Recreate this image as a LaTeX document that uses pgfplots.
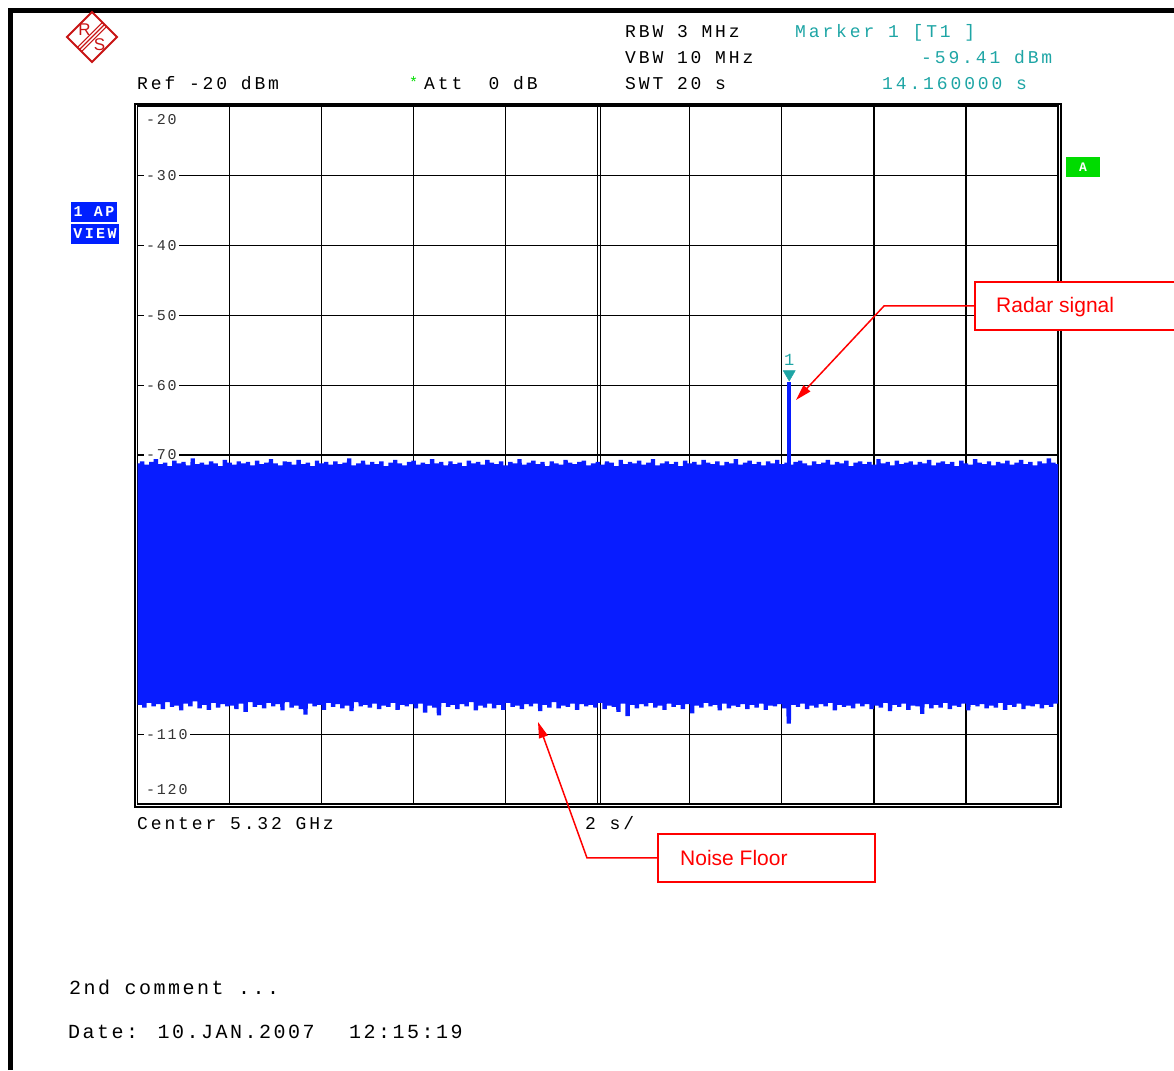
\documentclass[border=0pt]{standalone}
\usepackage{pgfplots}
\pgfplotsset{compat=1.18}
\usetikzlibrary{arrows.meta}
\usepackage{fontspec}
\setmainfont{Liberation Sans}
\newfontfamily\monoA[LetterSpace=16]{Liberation Mono}
\newfontfamily\monoB[LetterSpace=12.5]{Liberation Mono}
\newfontfamily\monoT[LetterSpace=12]{Liberation Mono}
\definecolor{trace}{RGB}{8,28,255}
\definecolor{mk}{RGB}{30,165,165}
\definecolor{rsred}{RGB}{200,20,20}
\definecolor{grn}{RGB}{0,220,0}
\definecolor{apblue}{RGB}{0,32,255}
\newcommand\hdr{\monoA\fontsize{18}{18}\selectfont}
\newcommand\tck{\monoT\fontsize{15}{15}\selectfont}
\newcommand\ftr{\monoB\fontsize{20}{20}\selectfont}
\begin{document}
\begin{tikzpicture}
\useasboundingbox (0,0) rectangle (1174pt,1070pt);
% second line of the centre division, under the trace
\draw[line width=1.2pt] (600.7pt,964pt) -- (600.7pt,266pt);
\begin{axis}[
  at={(137.5pt,266pt)}, anchor=south west,
  scale only axis, width=920.5pt, height=698pt,
  xmin=0, xmax=20, ymin=-120, ymax=-20,
  xtick={2,4,...,18}, ytick={-110,-100,...,-30},
  tick label style={opacity=0, font=\tiny},
  major tick length=0pt,
  grid=major, grid style={black, line width=1.2pt},
  axis line style={black, line width=1.2pt},
]
% level labels sit under the trace, as on the screen
\node[fill=white, inner sep=2pt, anchor=west, font=\tck, text=black!80] at (axis cs:0.14,-21.93) {-20};
\node[fill=white, inner sep=2pt, anchor=west, font=\tck, text=black!80] at (axis cs:0.14,-30) {-30};
\node[fill=white, inner sep=2pt, anchor=west, font=\tck, text=black!80] at (axis cs:0.14,-40) {-40};
\node[fill=white, inner sep=2pt, anchor=west, font=\tck, text=black!80] at (axis cs:0.14,-50) {-50};
\node[fill=white, inner sep=2pt, anchor=west, font=\tck, text=black!80] at (axis cs:0.14,-60) {-60};
\node[fill=white, inner sep=2pt, anchor=west, font=\tck, text=black!80] at (axis cs:0.14,-70) {-70};
\node[fill=white, inner sep=2pt, anchor=west, font=\tck, text=black!80] at (axis cs:0.14,-80) {-80};
\node[fill=white, inner sep=2pt, anchor=west, font=\tck, text=black!80] at (axis cs:0.14,-90) {-90};
\node[fill=white, inner sep=2pt, anchor=west, font=\tck, text=black!80] at (axis cs:0.14,-100) {-100};
\node[fill=white, inner sep=2pt, anchor=west, font=\tck, text=black!80] at (axis cs:0.14,-110) {-110};
\node[fill=white, inner sep=2pt, anchor=west, font=\tck, text=black!80] at (axis cs:0.14,-118.0) {-120};

% noise floor trace
\addplot[trace, line width=4.4pt, line join=bevel] coordinates {
(0.00,-71.2)(0.05,-105.8)(0.10,-70.9)(0.15,-106.2)(0.20,-71.4)(0.25,-105.5)(0.30,-71.0)(0.35,-106.0)(0.40,-70.6)(0.45,-105.7)
(0.50,-71.3)(0.55,-106.4)(0.60,-71.1)(0.65,-105.4)(0.70,-71.6)(0.75,-106.1)(0.80,-70.8)(0.85,-105.9)(0.90,-71.2)(0.95,-106.6)
(1.00,-71.0)(1.05,-105.6)(1.10,-71.5)(1.15,-106.0)(1.20,-70.5)(1.25,-105.3)(1.30,-71.3)(1.35,-106.3)(1.40,-71.1)(1.45,-105.8)
(1.50,-71.4)(1.55,-106.5)(1.60,-70.9)(1.65,-105.5)(1.70,-71.2)(1.75,-106.2)(1.80,-71.6)(1.85,-105.7)(1.90,-70.7)(1.95,-106.0)
(2.00,-71.1)(2.05,-105.9)(2.10,-71.4)(2.15,-106.4)(2.20,-70.9)(2.25,-105.6)(2.30,-71.2)(2.35,-106.8)(2.40,-71.0)(2.45,-105.4)
(2.50,-71.5)(2.55,-106.1)(2.60,-70.8)(2.65,-105.8)(2.70,-71.3)(2.75,-106.3)(2.80,-71.1)(2.85,-105.5)(2.90,-70.6)(2.95,-106.0)
(3.00,-71.2)(3.05,-105.7)(3.10,-71.5)(3.15,-106.6)(3.20,-70.9)(3.25,-105.4)(3.30,-71.0)(3.35,-106.2)(3.40,-71.4)(3.45,-105.9)
(3.50,-70.7)(3.55,-106.4)(3.60,-71.3)(3.65,-107.2)(3.70,-71.1)(3.75,-105.6)(3.80,-71.6)(3.85,-106.0)(3.90,-70.8)(3.95,-105.8)
(4.00,-71.2)(4.05,-106.5)(4.10,-71.0)(4.15,-105.5)(4.20,-71.4)(4.25,-106.1)(4.30,-70.9)(4.35,-105.7)(4.40,-71.3)(4.45,-106.3)
(4.50,-71.1)(4.55,-105.9)(4.60,-70.5)(4.65,-106.7)(4.70,-71.5)(4.75,-105.4)(4.80,-71.2)(4.85,-106.0)(4.90,-70.8)(4.95,-105.8)
(5.00,-71.4)(5.05,-106.2)(5.10,-71.0)(5.15,-105.6)(5.20,-71.3)(5.25,-106.4)(5.30,-70.9)(5.35,-105.9)(5.40,-71.6)(5.45,-106.1)
(5.50,-71.1)(5.55,-105.5)(5.60,-70.7)(5.65,-106.5)(5.70,-71.2)(5.75,-105.8)(5.80,-71.5)(5.85,-106.0)(5.90,-71.0)(5.95,-105.7)
(6.00,-70.8)(6.05,-106.3)(6.10,-71.4)(6.15,-105.6)(6.20,-71.1)(6.25,-106.9)(6.30,-71.3)(6.35,-105.9)(6.40,-70.6)(6.45,-106.2)
(6.50,-71.2)(6.55,-107.3)(6.60,-71.0)(6.65,-105.5)(6.70,-71.5)(6.75,-106.1)(6.80,-70.9)(6.85,-105.8)(6.90,-71.3)(6.95,-106.4)
(7.00,-71.1)(7.05,-105.7)(7.10,-71.6)(7.15,-106.0)(7.20,-70.8)(7.25,-105.4)(7.30,-71.2)(7.35,-106.6)(7.40,-71.0)(7.45,-105.9)
(7.50,-71.4)(7.55,-106.2)(7.60,-70.7)(7.65,-105.6)(7.70,-71.1)(7.75,-106.3)(7.80,-71.3)(7.85,-105.8)(7.90,-70.9)(7.95,-106.5)
(8.00,-71.5)(8.05,-105.5)(8.10,-71.0)(8.15,-106.1)(8.20,-71.2)(8.25,-105.9)(8.30,-70.6)(8.35,-106.4)(8.40,-71.4)(8.45,-105.7)
(8.50,-71.1)(8.55,-106.0)(8.60,-70.8)(8.65,-105.6)(8.70,-71.3)(8.75,-106.7)(8.80,-71.0)(8.85,-105.8)(8.90,-71.6)(8.95,-106.2)
(9.00,-70.9)(9.05,-105.4)(9.10,-71.2)(9.15,-106.3)(9.20,-71.4)(9.25,-105.9)(9.30,-70.7)(9.35,-106.1)(9.40,-71.1)(9.45,-105.6)
(9.50,-71.3)(9.55,-106.5)(9.60,-71.0)(9.65,-105.7)(9.70,-70.8)(9.75,-106.0)(9.80,-71.5)(9.85,-105.8)(9.90,-71.2)(9.95,-106.2)
(10.00,-71.0)(10.05,-105.5)(10.10,-71.4)(10.15,-106.4)(10.20,-70.9)(10.25,-105.9)(10.30,-71.1)(10.35,-106.1)(10.40,-71.6)(10.45,-106.8)
(10.50,-70.7)(10.55,-105.6)(10.60,-71.3)(10.65,-107.4)(10.70,-71.0)(10.75,-105.8)(10.80,-71.2)(10.85,-106.3)(10.90,-70.8)(10.95,-105.7)
(11.00,-71.4)(11.05,-106.0)(11.10,-71.1)(11.15,-105.5)(11.20,-70.6)(11.25,-106.2)(11.30,-71.5)(11.35,-105.9)(11.40,-71.2)(11.45,-106.5)
(11.50,-70.9)(11.55,-105.6)(11.60,-71.3)(11.65,-106.1)(11.70,-71.0)(11.75,-105.8)(11.80,-71.6)(11.85,-106.4)(11.90,-70.8)(11.95,-105.7)
(12.00,-71.2)(12.05,-107.0)(12.10,-71.0)(12.15,-105.9)(12.20,-71.4)(12.25,-106.2)(12.30,-70.7)(12.35,-105.5)(12.40,-71.1)(12.45,-106.0)
(12.50,-71.3)(12.55,-105.8)(12.60,-70.9)(12.65,-106.6)(12.70,-71.5)(12.75,-105.6)(12.80,-71.0)(12.85,-106.3)(12.90,-71.2)(12.95,-105.9)
(13.00,-70.6)(13.05,-106.1)(13.10,-71.4)(13.15,-105.7)(13.20,-71.1)(13.25,-106.4)(13.30,-70.8)(13.35,-105.8)(13.40,-71.3)(13.45,-106.2)
(13.50,-71.0)(13.55,-105.6)(13.60,-71.5)(13.65,-106.5)(13.70,-70.9)(13.75,-105.9)(13.80,-71.2)(13.85,-106.0)(13.90,-70.7)(13.95,-105.7)
(14.00,-71.3)(14.05,-106.3)(14.10,-71.1)(14.15,-108.5)(14.20,-71.4)(14.25,-105.8)(14.30,-71.0)(14.35,-106.1)(14.40,-70.8)(14.45,-105.6)
(14.50,-71.2)(14.55,-106.4)(14.60,-71.5)(14.65,-105.9)(14.70,-70.9)(14.75,-106.2)(14.80,-71.3)(14.85,-105.7)(14.90,-71.1)(14.95,-106.0)
(15.00,-70.7)(15.05,-105.5)(15.10,-71.4)(15.15,-106.6)(15.20,-71.0)(15.25,-105.8)(15.30,-71.2)(15.35,-106.1)(15.40,-70.8)(15.45,-105.9)
(15.50,-71.6)(15.55,-106.3)(15.60,-71.1)(15.65,-105.6)(15.70,-70.9)(15.75,-106.0)(15.80,-71.3)(15.85,-105.7)(15.90,-71.0)(15.95,-106.4)
(16.00,-71.4)(16.05,-105.9)(16.10,-70.6)(16.15,-106.2)(16.20,-71.2)(16.25,-105.5)(16.30,-71.0)(16.35,-106.7)(16.40,-71.5)(16.45,-105.8)
(16.50,-70.8)(16.55,-106.1)(16.60,-71.3)(16.65,-105.6)(16.70,-71.1)(16.75,-106.5)(16.80,-70.9)(16.85,-105.9)(16.90,-71.4)(16.95,-106.0)
(17.00,-71.0)(17.05,-107.1)(17.10,-71.2)(17.15,-105.7)(17.20,-70.7)(17.25,-106.3)(17.30,-71.5)(17.35,-105.8)(17.40,-71.1)(17.45,-106.2)
(17.50,-70.9)(17.55,-105.5)(17.60,-71.3)(17.65,-106.4)(17.70,-71.0)(17.75,-105.9)(17.80,-71.6)(17.85,-106.1)(17.90,-70.8)(17.95,-105.6)
(18.00,-71.2)(18.05,-106.6)(18.10,-71.4)(18.15,-105.8)(18.20,-70.6)(18.25,-106.0)(18.30,-71.1)(18.35,-105.7)(18.40,-71.3)(18.45,-106.3)
(18.50,-70.9)(18.55,-105.9)(18.60,-71.5)(18.65,-106.2)(18.70,-71.0)(18.75,-105.5)(18.80,-71.2)(18.85,-106.5)(18.90,-70.8)(18.95,-105.8)
(19.00,-71.4)(19.05,-106.1)(19.10,-71.1)(19.15,-105.6)(19.20,-70.7)(19.25,-106.4)(19.30,-71.3)(19.35,-105.9)(19.40,-71.0)(19.45,-106.0)
(19.50,-71.5)(19.55,-105.7)(19.60,-70.9)(19.65,-106.3)(19.70,-71.2)(19.75,-105.8)(19.80,-70.5)(19.85,-106.1)(19.90,-71.1)(19.95,-105.6)
(20.00,-71.3)
};
% radar pulse
\addplot[trace, line width=4.5pt] coordinates {(14.16,-71.5) (14.16,-59.6)};
% marker 1
\addplot[only marks, mark=triangle*, mark size=7pt, color=mk,
  mark options={yshift=7pt, rotate=180},
  nodes near coords={1},
  every node near coord/.append style={anchor=base, yshift=9pt, font=\monoA\fontsize{17}{17}\selectfont, text=mk}]
  coordinates {(14.16,-59.41)};
\end{axis}

\begin{scope}[x=1pt, y=1pt]
% outer frame of the screen
\draw[line width=4.5pt] (10.5,0) -- (10.5,1059.5) -- (1180,1059.5);
\draw[line width=2.5pt] (135,966) rectangle (1061,263);

% R&S logo
\draw[rsred, line width=2pt] (92,1058) -- (117,1033) -- (92,1008) -- (67,1033) -- cycle;
\draw[rsred, line width=1.1pt] (104.5,1045.5) -- (79.5,1020.5);
\draw[rsred, line width=1.1pt] (106.6,1043.4) -- (81.6,1018.4);
\draw[rsred, line width=1.1pt] (102.4,1047.6) -- (77.4,1022.6);
\node[rsred, font=\fontsize{17}{17}\selectfont] at (84.5,1040) {R};
\node[rsred, font=\fontsize{17}{17}\selectfont] at (99.5,1025) {S};

% header
\node[anchor=base west, inner sep=0, font=\hdr, text=black] at (137,980) {Ref -20 dBm};
\node[anchor=base west, inner sep=0, font=\monoA\fontsize{15}{15}\selectfont, text=grn] at (409,982) {*};
\node[anchor=base west, inner sep=0, font=\hdr, text=black] at (424,980) {Att};
\node[anchor=base west, inner sep=0, font=\hdr, text=black] at (488.5,980) {0 dB};
\node[anchor=base west, inner sep=0, font=\hdr, text=black] at (625,1032.5) {RBW 3 MHz};
\node[anchor=base west, inner sep=0, font=\hdr, text=black] at (625,1006.5) {VBW 10 MHz};
\node[anchor=base west, inner sep=0, font=\hdr, text=black] at (625,980.5) {SWT 20 s};
\node[anchor=base west, inner sep=0, font=\hdr, text=mk] at (795,1032.5) {Marker 1 [T1 ]};
\node[anchor=base west, inner sep=0, font=\hdr, text=mk] at (921,1006.5) {-59.41 dBm};
\node[anchor=base west, inner sep=0, font=\hdr, text=mk] at (882,980.5) {14.160000 s};

% side flags
\fill[apblue] (71,868) rectangle (117,848);
\node[text=white, font=\monoA\bfseries\fontsize{15}{15}\selectfont] at (94,858) {1 AP};
\fill[apblue] (71,846) rectangle (119,826);
\node[text=white, font=\monoA\bfseries\fontsize{15}{15}\selectfont] at (95,836) {VIEW};
\fill[grn] (1066,913) rectangle (1100,893);
\node[text=white, font=\monoA\bfseries\fontsize{13}{13}\selectfont] at (1083,903) {A};

% footer
\node[anchor=base west, inner sep=0, font=\hdr, text=black] at (137,240) {Center 5.32 GHz};
\node[anchor=base west, inner sep=0, font=\hdr, text=black] at (585,240) {2 s/};
\node[anchor=base west, inner sep=0, font=\ftr, text=black] at (69,75) {2nd comment ...};
\node[anchor=base west, inner sep=0, font=\ftr, text=black] at (68,32) {Date: 10.JAN.2007};
\node[anchor=base west, inner sep=0, font=\ftr, text=black] at (349,32) {12:15:19};

% callouts
\draw[red, line width=2pt, fill=white] (975,788) rectangle (1190,740);
\node[anchor=base west, inner sep=0, red, font=\fontsize{21}{21}\selectfont] at (996,757) {Radar signal};
\draw[red, line width=1.5pt, -{Triangle[length=16pt, width=9pt]}] (975,764) -- (884,764) -- (796,670);
\draw[red, line width=2pt, fill=white] (658,236) rectangle (875,188);
\node[anchor=base west, inner sep=0, red, font=\fontsize{21}{21}\selectfont] at (680,204) {Noise Floor};
\draw[red, line width=1.5pt, -{Triangle[length=16pt, width=9pt]}] (658,212) -- (587,212) -- (538,348);
\end{scope}
\end{tikzpicture}
\end{document}
